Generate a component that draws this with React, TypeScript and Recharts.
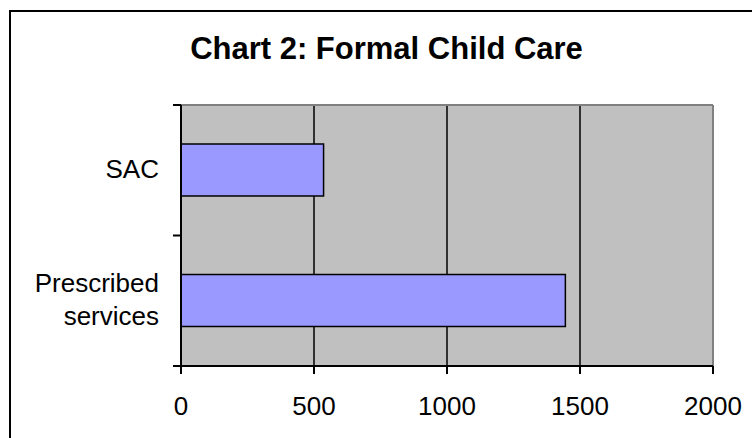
import React from "react"
import { BarChart, Bar, XAxis, YAxis, CartesianGrid, ReferenceLine } from "recharts"

// Formal child care places by type
const categories = ["SAC", "Prescribed services"]
const places = [536, 1445]
const xTicks = [0, 500, 1000, 1500, 2000]

const data = categories.map((name, i) => ({ name, places: places[i] }))

const FONT = "'Liberation Sans', Arial, Helvetica, sans-serif"
const TICK_SIZE = 8
const TICK_MARGIN = 14

// category label, with tick marks on the band edges instead of the band centre
const CategoryTick = (props: any) => {
  const { x, y, payload, index } = props
  const axisX = x + TICK_SIZE + TICK_MARGIN
  const half = payload?.offset ?? 0
  const words = String(payload.value).split(" ")
  const lineHeight = 33
  const firstDy = 8 - ((words.length - 1) * lineHeight) / 2
  const isLast = index === categories.length - 1
  return (
    <g>
      <line x1={axisX - TICK_SIZE} x2={axisX} y1={y - half} y2={y - half} stroke="#000" strokeWidth={2} />
      {isLast && (
        <line x1={axisX - TICK_SIZE} x2={axisX} y1={y + half} y2={y + half} stroke="#000" strokeWidth={2} />
      )}
      <text x={x} y={y} textAnchor="end" fontSize={26} fontFamily={FONT} fill="#000">
        {words.map((w, i) => (
          <tspan key={i} x={x} dy={i === 0 ? firstDy : lineHeight}>
            {w}
          </tspan>
        ))}
      </text>
    </g>
  )
}

const App: React.FC = () => {
  return (
    <div
      style={{
        position: "absolute",
        left: 0,
        top: 0,
        width: 752,
        height: 438,
        overflow: "hidden",
        background: "#fff",
        fontFamily: FONT,
      }}
    >
      <div
        style={{
          position: "absolute",
          left: 9,
          top: 10,
          width: 800,
          height: 500,
          border: "2px solid #000",
        }}
      />
      <div
        style={{
          position: "absolute",
          left: 0,
          top: 33,
          width: 773,
          textAlign: "center",
          fontSize: 31,
          lineHeight: "31px",
          fontWeight: "bold",
          color: "#000",
        }}
      >
        Chart 2: Formal Child Care
      </div>
      <div style={{ position: "absolute", left: 0, top: 0 }}>
        <BarChart
          width={752}
          height={438}
          data={data}
          layout="vertical"
          margin={{ top: 105, right: 39, bottom: 0, left: 0 }}
        >
          <CartesianGrid fill="#C0C0C0" fillOpacity={1} horizontal={false} stroke="#000" strokeWidth={1.5} />
          <XAxis
            type="number"
            domain={[0, 2000]}
            ticks={xTicks}
            height={72}
            tickSize={TICK_SIZE}
            tickMargin={23}
            axisLine={{ stroke: "#000", strokeWidth: 2 }}
            tickLine={{ stroke: "#000", strokeWidth: 2 }}
            tick={{ fill: "#000", fontSize: 26, fontFamily: FONT }}
          />
          <YAxis
            type="category"
            dataKey="name"
            width={181}
            tickSize={TICK_SIZE}
            tickMargin={TICK_MARGIN}
            axisLine={{ stroke: "#000", strokeWidth: 2 }}
            tickLine={false}
            tick={<CategoryTick />}
            interval={0}
          />
          <ReferenceLine y="SAC" position="start" stroke="#808080" strokeWidth={2} />
          <ReferenceLine x={2000} stroke="#808080" strokeWidth={2} />
          <Bar
            dataKey="places"
            fill="#9999FF"
            stroke="#000"
            strokeWidth={1.5}
            barSize={52}
            isAnimationActive={false}
          />
        </BarChart>
      </div>
    </div>
  )
}

export default App
